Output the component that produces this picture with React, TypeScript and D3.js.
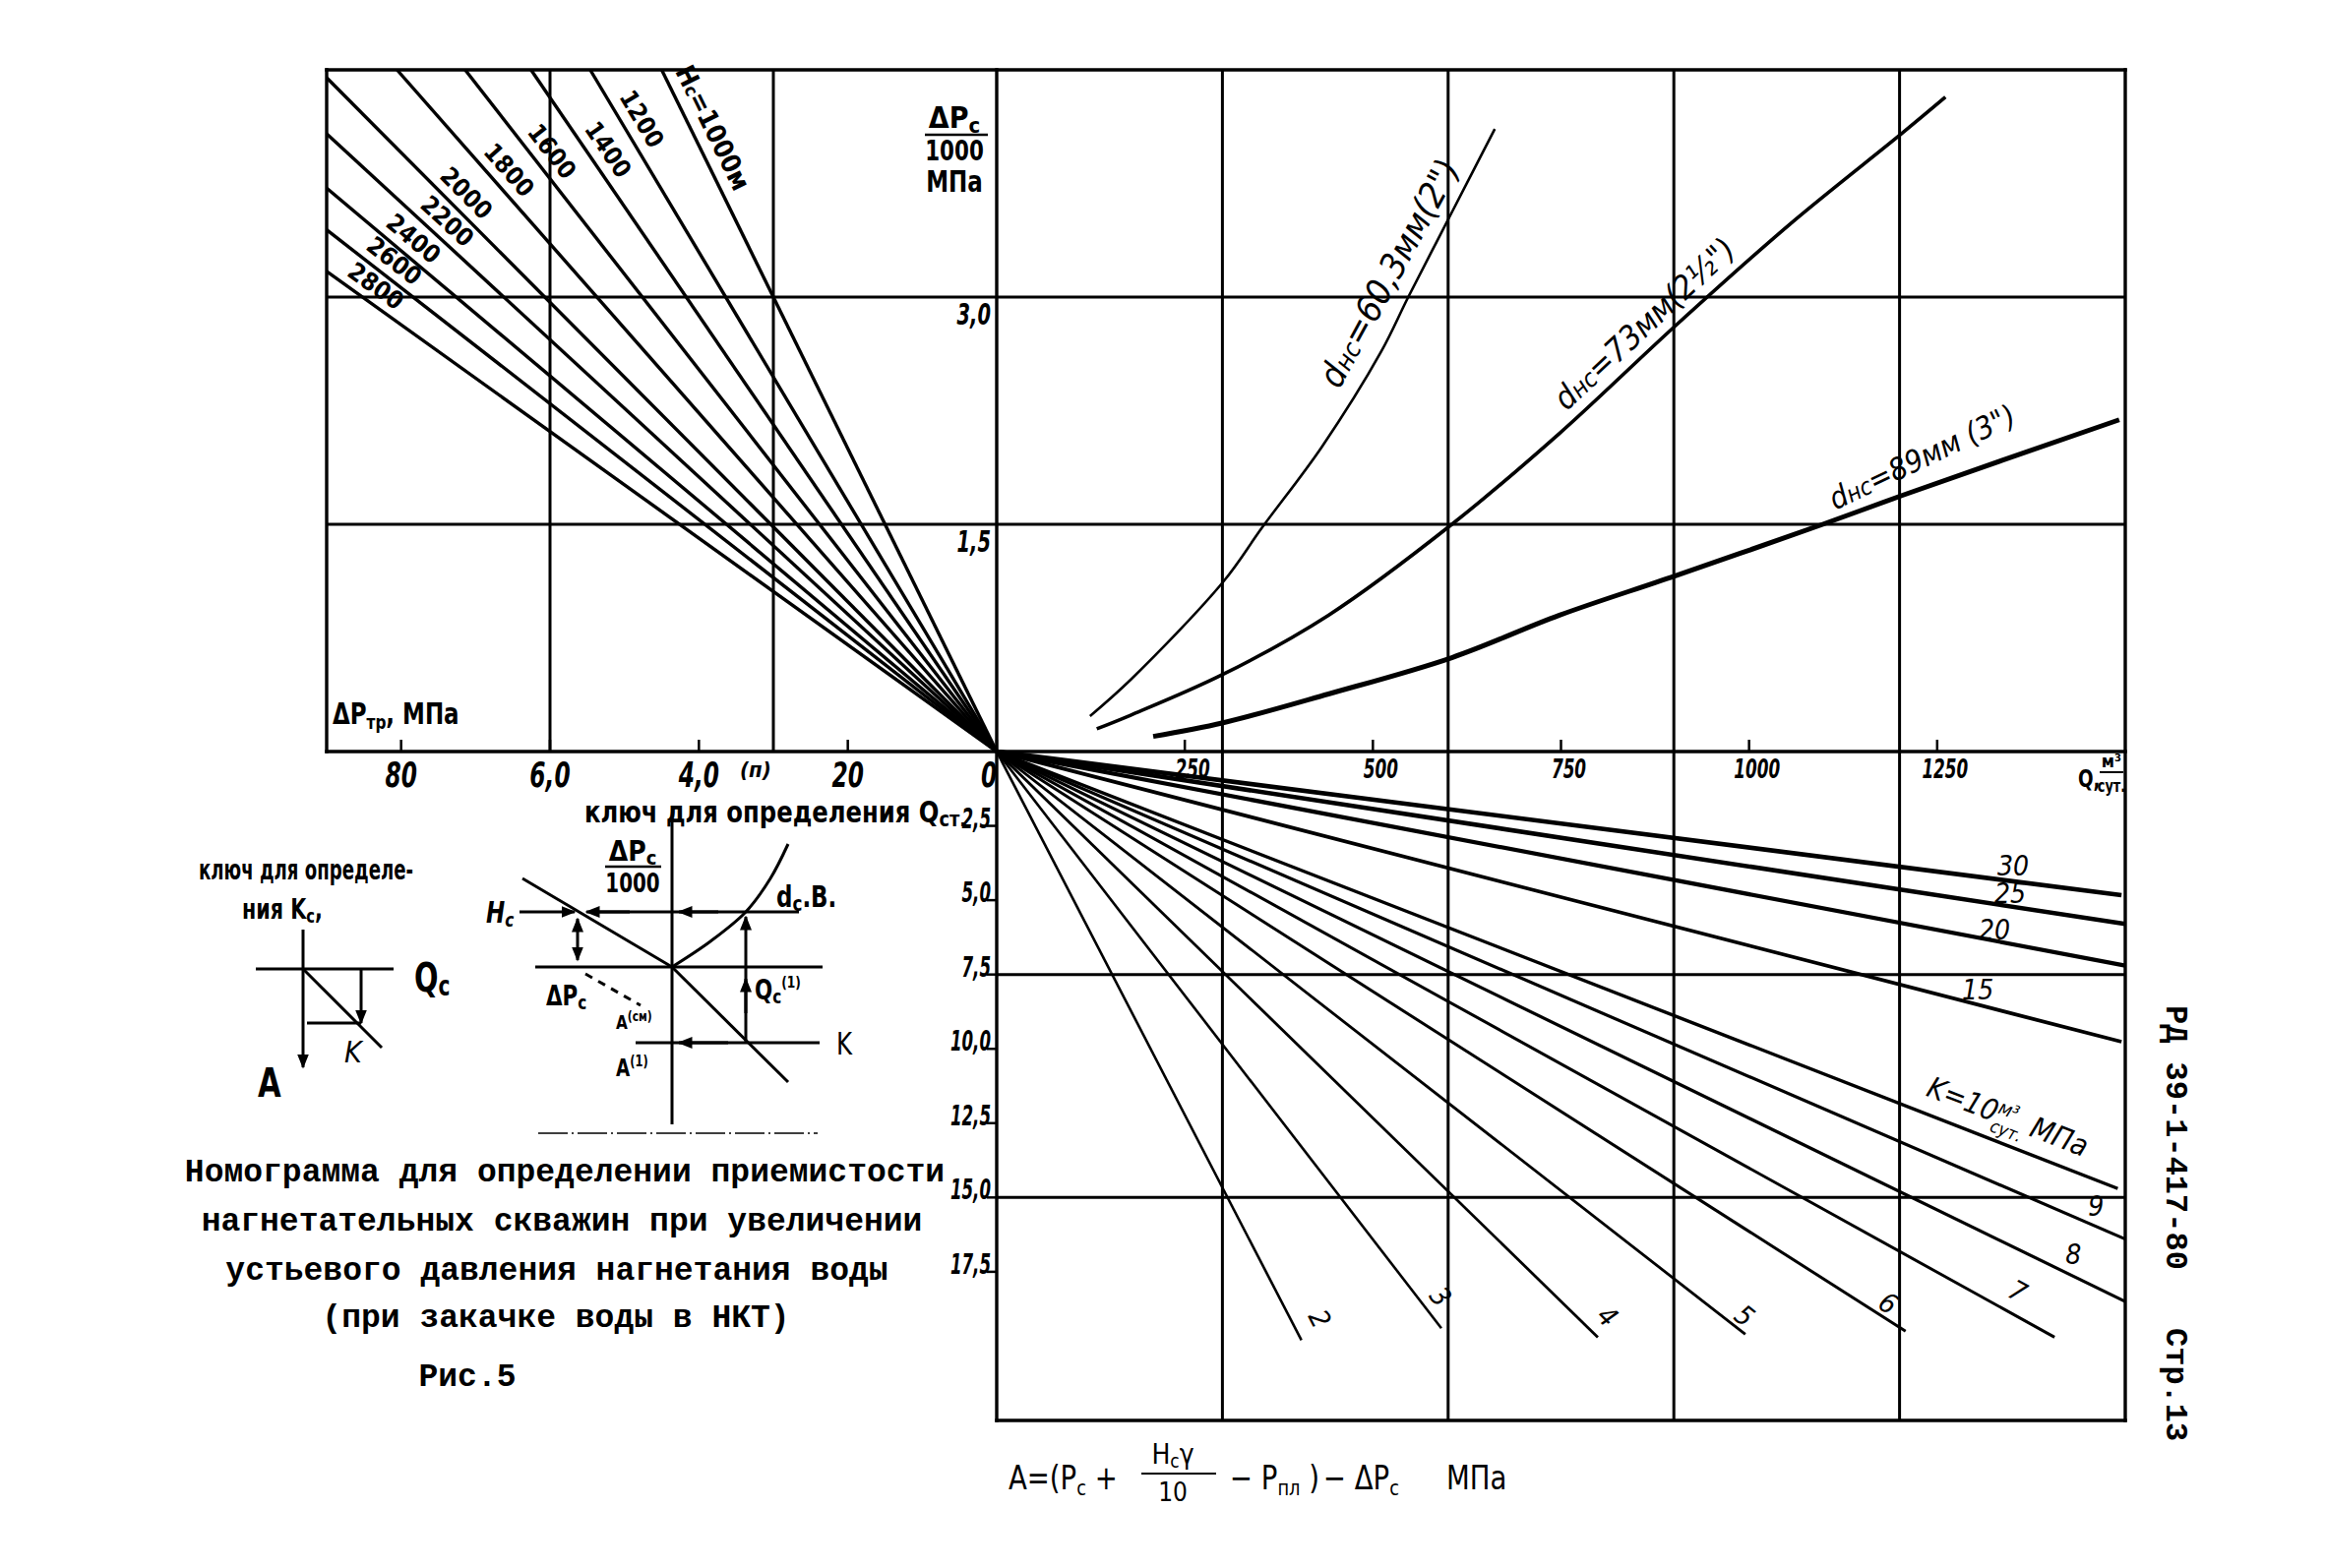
import React from "react";
import * as d3 from "d3";

const W = 2363;
const H = 1594;

// ---------- axis ticks ----------
const ptrTicks = [80, 60, 40, 20, 0];
const ptrTickLabels = ["80", "6,0", "4,0", "20", "0"];
const pcTicks = [3.0, 1.5];
const pcTickLabels = ["3,0", "1,5"];
const qTicks = [250, 500, 750, 1000, 1250];
const qTickLabels = ["250", "500", "750", "1000", "1250"];
const aTicks = [2.5, 5, 7.5, 10, 12.5, 15, 17.5];
const aTickLabels = ["2,5", "5,0", "7,5", "10,0", "12,5", "15,0", "17,5"];

// ---------- grid (paper grid in data units) ----------
const ptrGrid = [30, 60];
const pcGrid = [1.5, 3.0];
const qGrid = [300, 600, 900, 1200];
const aGrid = [7.5, 15];

// ---------- upper-left: Hc lines (ΔPтр reached at ΔPc/1000 = 3.0) ----------
const hcValues = [1000, 1200, 1400, 1600, 1800, 2000, 2200, 2400, 2600, 2800];
const hcPtrAtPc3 = [30, 36.4, 41.7, 47.6, 53.7, 60.7, 66.2, 72.6, 78.4, 85.2];

// ---------- upper-right: tubing curves (Q, ΔPc/1000) ----------
const q60 = [124, 178, 301, 353, 432, 511, 547, 605, 662];
const pc60 = [0.234, 0.474, 1.12, 1.48, 2.01, 2.64, 3.0, 3.56, 4.11];
const q73 = [133, 178, 301, 441, 605, 748, 902, 1054, 1203, 1261];
const pc73 = [0.15, 0.24, 0.51, 0.9, 1.5, 2.1, 2.81, 3.48, 4.08, 4.32];
const q89 = [208, 301, 441, 605, 748, 902, 1098, 1203, 1492];
const pc89 = [0.1, 0.19, 0.38, 0.62, 0.9, 1.16, 1.5, 1.69, 2.19];

// ---------- lower-right: K lines, end points (Q, A) ----------
const kValues = [2, 3, 4, 5, 6, 7, 8, 9, 10, 15, 20, 25, 30];
const kEndQ = [405, 591, 799, 995, 1208, 1406, 1500, 1500, 1490, 1495, 1500, 1500, 1495];
const kEndA = [19.8, 19.4, 19.7, 19.6, 19.5, 19.7, 18.5, 16.4, 14.7, 9.76, 7.2, 5.8, 4.83];

// ---------- layout (not data) ----------
const hcLabelPc = [4.1, 4.15, 3.94, 3.92, 3.79, 3.63, 3.44, 3.32, 3.17, 3.0];
const kLabelPos: [number, number][] = [
  [418, 18.9], [580, 18.2], [803, 18.9], [986, 18.9], [1178, 18.5], [1351, 18.1],
  [1431, 16.9], [1461, 15.3], [1339, 12.6], [1304, 8.0], [1326, 6.0], [1347, 4.77], [1351, 3.84],
];
const kWidths = [2.6, 2.6, 2.8, 2.8, 3, 3, 3.2, 3.2, 3.4, 3.8, 4.2, 4.6, 4.6];

const xPtr = d3.scaleLinear().domain([0, 90]).range([1013, 332]);
const yPc = d3.scaleLinear().domain([0, 4.5]).range([764, 71]);
const xQ = d3.scaleLinear().domain([0, 1500]).range([1013, 2160]);
const yA = d3.scaleLinear().domain([0, 22.5]).range([764, 1444]);

const F = "'DejaVu Sans Condensed', 'DejaVu Sans', sans-serif";
const MONO = "'Liberation Mono', 'DejaVu Sans Mono', monospace";

const Txt = ({ x, y, size, sx = 1, anchor = "start", weight = "bold", italic = false, rot = 0, children, family = F }: any) => (
  <text
    transform={`translate(${x},${y}) rotate(${rot}) scale(${sx},1)`}
    fontSize={size}
    fontFamily={family}
    fontWeight={weight}
    fontStyle={italic ? "italic" : "normal"}
    textAnchor={anchor}
    fill="#000"
  >
    {children}
  </text>
);

export default function App() {
  const lineQ = d3.line<[number, number]>().x((d) => xQ(d[0])).y((d) => yPc(d[1])).curve(d3.curveCatmullRom.alpha(0.5));
  const curves = [
    { q: q60, p: pc60, w: 2.6 },
    { q: q73, p: pc73, w: 3.6 },
    { q: q89, p: pc89, w: 5 },
  ];
  const stroke = "#000";
  const gw = 3;
  return (
    <svg width={W} height={H} style={{ position: "absolute", left: 0, top: 0, background: "#fff" }} xmlns="http://www.w3.org/2000/svg">
      <defs>
        <marker id="arr" viewBox="0 0 10 10" refX="9" refY="5" markerWidth="5" markerHeight="5" orient="auto-start-reverse">
          <path d="M0,1 L10,5 L0,9 z" fill="#000" />
        </marker>
      </defs>
      <rect x={0} y={0} width={W} height={H} fill="#fff" />

      {/* frame */}
      <g stroke={stroke} strokeWidth={3.4} fill="none" strokeLinecap="square">
        <line x1={xPtr(90)} y1={yPc(4.5)} x2={xQ(1500)} y2={yPc(4.5)} />
        <line x1={xPtr(90)} y1={yPc(4.5)} x2={xPtr(90)} y2={yPc(0)} />
        <line x1={xPtr(90)} y1={yPc(0)} x2={xQ(1500)} y2={yPc(0)} />
        <line x1={xQ(0)} y1={yPc(4.5)} x2={xQ(0)} y2={yA(22.5)} />
        <line x1={xQ(1500)} y1={yPc(4.5)} x2={xQ(1500)} y2={yA(22.5)} />
        <line x1={xQ(0)} y1={yA(22.5)} x2={xQ(1500)} y2={yA(22.5)} />
      </g>
      {/* grid */}
      <g stroke={stroke} strokeWidth={gw}>
        {ptrGrid.map((v) => (
          <line key={"pg" + v} x1={xPtr(v)} x2={xPtr(v)} y1={yPc(4.5)} y2={yPc(0)} />
        ))}
        {pcGrid.map((v) => (
          <line key={"cg" + v} x1={xPtr(90)} x2={xQ(1500)} y1={yPc(v)} y2={yPc(v)} />
        ))}
        {qGrid.map((v) => (
          <line key={"qg" + v} x1={xQ(v)} x2={xQ(v)} y1={yPc(4.5)} y2={yA(22.5)} />
        ))}
        {aGrid.map((v) => (
          <line key={"ag" + v} x1={xQ(0)} x2={xQ(1500)} y1={yA(v)} y2={yA(v)} />
        ))}
      </g>
      {/* ticks */}
      <g stroke={stroke} strokeWidth={2.5}>
        {ptrTicks.map((v) => (
          <line key={"pt" + v} x1={xPtr(v)} x2={xPtr(v)} y1={yPc(0)} y2={yPc(0) - 12} />
        ))}
        {qTicks.map((v) => (
          <line key={"qt" + v} x1={xQ(v)} x2={xQ(v)} y1={yPc(0)} y2={yPc(0) - 12} />
        ))}
        {aTicks.map((v) => (
          <line key={"at" + v} x1={xQ(0) - 10} x2={xQ(0)} y1={yA(v)} y2={yA(v)} />
        ))}
      </g>
      {/* tick labels */}
      {ptrTicks.map((v, i) => (
        <Txt key={"ptl" + v} x={xPtr(v) - (v === 0 ? 8 : 0)} y={yPc(0) + 36} size={36} sx={0.72} anchor="middle" italic>
          {ptrTickLabels[i]}
        </Txt>
      ))}
      <Txt x={752} y={790} size={22} italic>(п)</Txt>
      {pcTicks.map((v, i) => (
        <Txt key={"pcl" + v} x={xQ(0) - 6} y={yPc(v) + 28} size={30} sx={0.72} anchor="end" italic>
          {pcTickLabels[i]}
        </Txt>
      ))}
      {qTicks.map((v, i) => (
        <Txt key={"ql" + v} x={xQ(v) + 8} y={yPc(0) + 27} size={26} sx={0.72} anchor="middle" italic>
          {qTickLabels[i]}
        </Txt>
      ))}
      {aTicks.map((v, i) => (
        <Txt key={"al" + v} x={xQ(0) - 6} y={yA(v) + 2} size={28} sx={0.66} anchor="end" italic>
          {aTickLabels[i]}
        </Txt>
      ))}

      {/* axis titles */}
      <Txt x={970} y={130} size={30} anchor="middle">
        ΔP<tspan fontSize={22} dy={5}>c</tspan>
      </Txt>
      <line x1={940} x2={1004} y1={137} y2={137} stroke={stroke} strokeWidth={2.5} />
      <Txt x={970} y={163} size={28} sx={0.85} anchor="middle">1000</Txt>
      <Txt x={970} y={195} size={30} sx={0.85} anchor="middle">МПа</Txt>

      <Txt x={338} y={736} size={30} sx={0.85}>
        ΔP<tspan fontSize={20} dy={5}>тр</tspan>
        <tspan dy={-5}>, МПа</tspan>
      </Txt>

      <Txt x={2112} y={800} size={24} sx={0.85}>Q,</Txt>
      <Txt x={2146} y={780} size={18} anchor="middle">м³</Txt>
      <line x1={2134} x2={2158} y1={785} y2={785} stroke={stroke} strokeWidth={2} />
      <Txt x={2146} y={805} size={18} sx={0.8} anchor="middle">сут.</Txt>

      {/* Hc lines */}
      <g stroke={stroke} strokeWidth={3.4} fill="none">
        {hcValues.map((h, i) => {
          const s = hcPtrAtPc3[i] / 3;
          const pcEnd = Math.min(4.5, 90 / s);
          return <line key={"hc" + h} x1={xPtr(0)} y1={yPc(0)} x2={xPtr(s * pcEnd)} y2={yPc(pcEnd)} />;
        })}
      </g>
      {hcValues.map((h, i) => {
        const s = hcPtrAtPc3[i] / 3;
        const p = hcLabelPc[i];
        const px = xPtr(s * p);
        const py = yPc(p);
        const th = Math.atan2(yPc(0) - py, xPtr(0) - px);
        const off = 15;
        const lx = px + Math.sin(th) * off;
        const ly = py - Math.cos(th) * off;
        return (
          <Txt key={"hcl" + h} x={lx} y={ly + 8} size={i === 0 ? 27 : 25} anchor="middle" rot={(th * 180) / Math.PI}>
            {i === 0 ? (
              <>
                H<tspan fontSize={18}>c</tspan>=1000м
              </>
            ) : (
              String(h)
            )}
          </Txt>
        );
      })}

      {/* tubing curves */}
      {curves.map((c, i) => (
        <path key={"cv" + i} d={lineQ(c.q.map((q, j) => [q, c.p[j]]) as [number, number][]) || ""} fill="none" stroke={stroke} strokeWidth={c.w} />
      ))}
      <Txt x={xQ(536)} y={yPc(3.12)} size={36} weight="normal" italic anchor="middle" rot={-61.3}>
        d<tspan fontSize={26}>нс</tspan>=60,3мм(2")
      </Txt>
      <Txt x={xQ(871)} y={yPc(2.77)} size={33} weight="normal" italic anchor="middle" rot={-43}>
        d<tspan fontSize={25}>нс</tspan>=73мм(2½")
      </Txt>
      <Txt x={xQ(1236)} y={yPc(1.88)} size={31} weight="normal" italic anchor="middle" rot={-25.5}>
        d<tspan fontSize={24}>нс</tspan>=89мм (3")
      </Txt>

      {/* K lines */}
      {kValues.map((k, i) => (
        <line key={"k" + k} x1={xQ(0)} y1={yA(0)} x2={xQ(kEndQ[i])} y2={yA(kEndA[i])} stroke={stroke} strokeWidth={kWidths[i]} />
      ))}
      {kValues.map((k, i) => {
        const [lq, la] = kLabelPos[i];
        const ang = (Math.atan2(yA(kEndA[i]) - yA(0), xQ(kEndQ[i]) - xQ(0)) * 180) / Math.PI;
        if (k === 10) {
          return (
            <Txt key={"kl" + k} x={xQ(lq)} y={yA(la)} size={30} weight="normal" italic anchor="middle" rot={ang}>
              K=10<tspan fontSize={20} dy={-10}>м³</tspan>
              <tspan fontSize={18} dx={-22} dy={20}>сут.</tspan>
              <tspan dy={-10} dx={6}>МПа</tspan>
            </Txt>
          );
        }
        const rot = k <= 7 ? ang : 0;
        return (
          <Txt key={"kl" + k} x={xQ(lq)} y={yA(la) + 10} size={28} weight="normal" italic anchor="middle" rot={rot}>
            {String(k)}
          </Txt>
        );
      })}

      {/* key texts */}
      <Txt x={594} y={836} size={30} sx={0.9}>ключ для определения Q<tspan fontSize={22} dy={4}>ст.</tspan></Txt>
      <Txt x={202} y={894} size={28} sx={0.72}>ключ для определе-</Txt>
      <Txt x={246} y={934} size={28} sx={0.82}>ния K<tspan fontSize={20} dy={4}>c</tspan><tspan dy={-4}>,</tspan></Txt>

      <g stroke={stroke} strokeWidth={3} fill="none">
        {/* diagram 1 */}
        <line x1={260} y1={985} x2={400} y2={985} />
        <line x1={308} y1={945} x2={308} y2={1085} markerEnd="url(#arr)" />
        <line x1={308} y1={985} x2={388} y2={1065} />
        <line x1={367} y1={985} x2={367} y2={1040} markerEnd="url(#arr)" />
        <line x1={367} y1={1040} x2={312} y2={1040} />
        {/* diagram 2 */}
        <line x1={683} y1={833} x2={683} y2={1143} />
        <line x1={544} y1={983} x2={836} y2={983} />
        <line x1={531} y1={893} x2={683} y2={983} />
        <line x1={683} y1={983} x2={801} y2={1100} />
        <path d={d3.line().curve(d3.curveCatmullRom)([[683, 983], [722, 957], [758, 927], [783, 893], [801, 858]]) || ""} />
        <line x1={528} y1={927} x2={584} y2={927} markerEnd="url(#arr)" />
        <line x1={812} y1={927} x2={600} y2={927} />
        <line x1={730} y1={927} x2={690} y2={927} markerEnd="url(#arr)" />
        <line x1={640} y1={927} x2={596} y2={927} markerEnd="url(#arr)" />
        <line x1={587} y1={934} x2={587} y2={976} markerStart="url(#arr)" markerEnd="url(#arr)" />
        <line x1={758} y1={1060} x2={758} y2={932} markerEnd="url(#arr)" />
        <line x1={758} y1={1030} x2={758} y2={995} markerEnd="url(#arr)" />
        <line x1={646} y1={1060} x2={833} y2={1060} />
        <line x1={740} y1={1060} x2={690} y2={1060} markerEnd="url(#arr)" />
        <line x1={595} y1={990} x2={651} y2={1022} strokeDasharray="8 7" />
        <line x1={547} y1={1152} x2={831} y2={1152} strokeWidth={1.5} strokeDasharray="30 4 2 4" />
      </g>
      <Txt x={421} y={1008} size={40} sx={0.8}>Q<tspan fontSize={28} dy={4}>c</tspan></Txt>
      <Txt x={350} y={1080} size={30} weight="normal" italic>K</Txt>
      <Txt x={262} y={1115} size={40} sx={0.85}>A</Txt>
      <Txt x={643} y={875} size={28} anchor="middle">ΔP<tspan fontSize={20} dy={4}>c</tspan></Txt>
      <line x1={615} x2={672} y1={881} y2={881} stroke={stroke} strokeWidth={2.5} />
      <Txt x={643} y={907} size={26} sx={0.85} anchor="middle">1000</Txt>
      <Txt x={494} y={938} size={30} sx={0.85} italic>H<tspan fontSize={20} dy={4}>c</tspan></Txt>
      <Txt x={555} y={1022} size={28} sx={0.85}>ΔP<tspan fontSize={20} dy={4}>c</tspan></Txt>
      <Txt x={626} y={1046} size={20} sx={0.85}>A<tspan fontSize={14} dy={-8}>(см)</tspan></Txt>
      <Txt x={789} y={922} size={30} sx={0.85}>d<tspan fontSize={22} dy={4}>c</tspan><tspan dy={-4}>.В.</tspan></Txt>
      <Txt x={767} y={1016} size={28} sx={0.85}>Q<tspan fontSize={20} dy={4}>c</tspan><tspan fontSize={16} dy={-16}>(1)</tspan></Txt>
      <Txt x={850} y={1072} size={32} weight="normal" sx={0.85}>K</Txt>
      <Txt x={626} y={1094} size={24} sx={0.85}>A<tspan fontSize={15} dy={-10}>(1)</tspan></Txt>

      {/* caption */}
      <Txt x={574} y={1201} size={33} family={MONO} anchor="middle">Номограмма для определении приемистости</Txt>
      <Txt x={571} y={1251} size={33} family={MONO} anchor="middle">нагнетательных скважин при увеличении</Txt>
      <Txt x={566} y={1301} size={33} family={MONO} anchor="middle">устьевого давления нагнетания воды</Txt>
      <Txt x={565} y={1349} size={33} family={MONO} anchor="middle">(при закачке воды в НКТ)</Txt>
      <Txt x={475} y={1409} size={33} family={MONO} anchor="middle">Рис.5</Txt>

      {/* formula */}
      <Txt x={1025} y={1514} size={34} weight="normal" sx={0.9}>A=(P<tspan fontSize={22} dy={6}>c</tspan><tspan dy={-6}> +</tspan></Txt>
      <Txt x={1192} y={1488} size={28} weight="normal" anchor="middle">H<tspan fontSize={19} dy={4}>c</tspan><tspan dy={-4}>γ</tspan></Txt>
      <line x1={1160} x2={1236} y1={1498} y2={1498} stroke={stroke} strokeWidth={2} />
      <Txt x={1192} y={1526} size={26} weight="normal" anchor="middle">10</Txt>
      <Txt x={1250} y={1514} size={34} weight="normal" sx={0.9}>− P<tspan fontSize={22} dy={6}>пл</tspan><tspan dy={-6}> )</tspan></Txt>
      <Txt x={1345} y={1514} size={34} weight="normal" sx={0.9}>− ΔP<tspan fontSize={22} dy={6}>c</tspan></Txt>
      <Txt x={1470} y={1514} size={34} weight="normal" sx={0.9}>МПа</Txt>

      {/* side note */}
      <Txt x={2202} y={1022} size={32} family={MONO} rot={90}>РД 39-1-417-80</Txt>
      <Txt x={2202} y={1350} size={32} family={MONO} rot={90}>Стр.13</Txt>
    </svg>
  );
}
